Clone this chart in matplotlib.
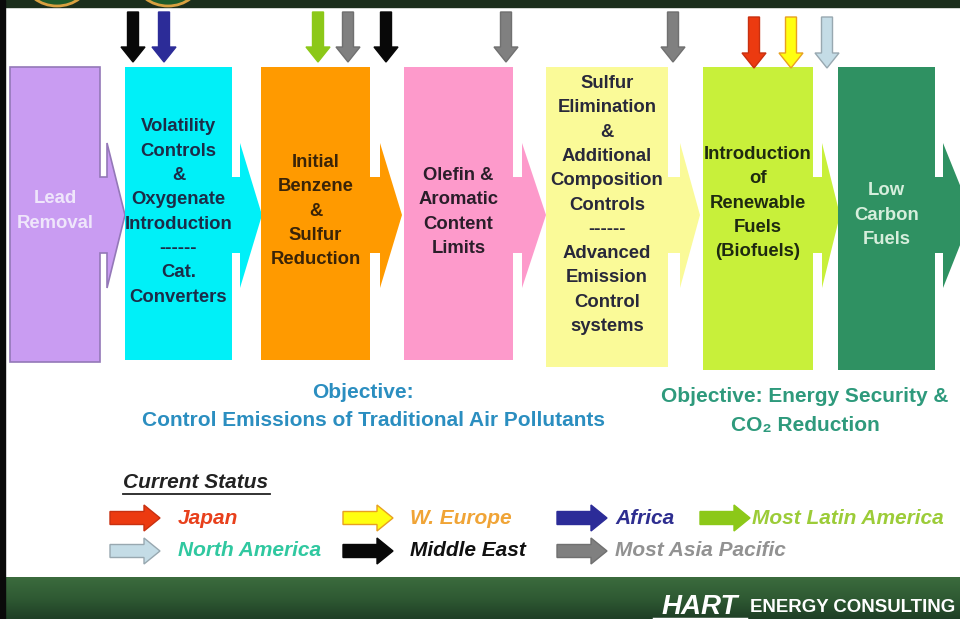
"""Fuel quality evolution diagram, drawn with patches in pixel space."""

import numpy as np
import matplotlib
matplotlib.use("Agg")
import matplotlib.pyplot as plt
from matplotlib.patches import Polygon, Rectangle, Ellipse
from matplotlib.colors import LinearSegmentedColormap

plt.rcParams['font.family'] = ['Liberation Sans', 'DejaVu Sans']

# Stages of fuel quality regulation.
stage_labels = [
    ["Lead", "Removal"],
    ["Volatility", "Controls", "&", "Oxygenate", "Introduction", "------", "Cat.", "Converters"],
    ["Initial", "Benzene", "&", "Sulfur", "Reduction"],
    ["Olefin &", "Aromatic", "Content", "Limits"],
    ["Sulfur", "Elimination", "&", "Additional", "Composition", "Controls", "------",
     "Advanced", "Emission", "Control", "systems"],
    ["Introduction", "of", "Renewable", "Fuels", "(Biofuels)"],
    ["Low", "Carbon", "Fuels"],
]
stage_colors = ["#c99cf2", "#00f0f8", "#ff9a00", "#fd9acb", "#fafa98", "#c8f03a", "#2f9162"]
stage_edges = ["#9478b8", "none", "none", "none", "none", "none", "none"]
stage_text_colors = ["#efe6fb", "#1c2c48", "#3a2408", "#2a1e2a", "#28283a", "#1e2a10", "#d6eedc"]

# Regions and their current status (stage reached).
region_names = ["Japan", "W. Europe", "Africa", "Most Latin America",
                "North America", "Middle East", "Most Asia Pacific"]
region_fill = ["#ec3a10", "#ffff10", "#2c2c98", "#8cc818", "#c4dce6", "#080808", "#808080"]
region_edge = ["#c83010", "#e8a020", "#2c2c98", "#8cc818", "#98a8b0", "#080808", "#707070"]
region_text = ["#e8401c", "#f0a436", "#2e2e90", "#9ccc38", "#30c8a0", "#101010", "#929292"]
marker_regions = ["Middle East", "Africa", "Most Latin America", "Most Asia Pacific", "Middle East",
                  "Most Asia Pacific", "Most Asia Pacific", "Japan", "W. Europe", "North America"]

objective_left = ["Objective:", "Control Emissions of Traditional Air Pollutants"]
objective_right = ["Objective: Energy Security &", "CO\u2082 Reduction"]

# Layout in pixels.
stage_left = [10, 125, 261, 404, 546, 703, 838]
stage_right = [100, 232, 370, 513, 668, 813, 935]
stage_bottom = [362, 360, 360, 360, 367, 370, 370]
stage_text_y = [211, 212, 211, 212, 205, 203, 215]
head_start = [107, 240, 380, 522, 680, 822, 943]
head_tip = [125, 262, 402, 546, 700, 840, 972]
marker_x = [133, 164, 318, 348, 386, 506, 673, 754, 791, 827]
marker_tip = [62, 62, 62, 62, 62, 62, 62, 68, 68, 68]
legend_col_x = [110, 343, 557, 700]
legend_text_x = [178, 410, 615, 752]
legend_row_y = [518, 551]

fig = plt.figure(figsize=(9.6, 6.19), dpi=100)
ax = fig.add_axes([0, 0, 1, 1])
ax.set_xlim(0, 960)
ax.set_ylim(619, 0)
ax.axis('off')


def right_arrow(x0, yc, length, shaft_h, head_h, head_len):
    xh = x0 + length - head_len
    return [(x0, yc - shaft_h), (xh, yc - shaft_h), (xh, yc - head_h), (x0 + length, yc),
            (xh, yc + head_h), (xh, yc + shaft_h), (x0, yc + shaft_h)]


def down_arrow(xc, y0, tip, shaft_w, head_w, head_len):
    yh = tip - head_len
    return [(xc - shaft_w, y0), (xc + shaft_w, y0), (xc + shaft_w, yh), (xc + head_w, yh),
            (xc, tip), (xc - head_w, yh), (xc - shaft_w, yh)]


# Header bar with the cropped logos.
ax.add_patch(Rectangle((0, 0), 960, 7, color="#1b2e1c", zorder=5))
for cx in (57, 168):
    ax.add_patch(Ellipse((cx, -20), 64, 52, facecolor="#1e5a2a", edgecolor="#d8a040", lw=2, zorder=6))

# Stages: box with block arrow pointing to the next stage.
shaft_top, shaft_bot, head_top, head_bot, mid = 177, 253, 143, 288, 215
for i, lines in enumerate(stage_labels):
    x0, x1, yb = stage_left[i], stage_right[i], stage_bottom[i]
    pts = [(x0, 67), (x1, 67), (x1, shaft_top), (head_start[i], shaft_top), (head_start[i], head_top),
           (head_tip[i], mid), (head_start[i], head_bot), (head_start[i], shaft_bot),
           (x1, shaft_bot), (x1, yb), (x0, yb)]
    ax.add_patch(Polygon(pts, closed=True, facecolor=stage_colors[i], edgecolor=stage_edges[i],
                         lw=1.2, zorder=2 + i * 0.1))
    cx = (x0 + x1) / 2
    n = len(lines)
    for j, line in enumerate(lines):
        y = stage_text_y[i] + (j - (n - 1) / 2) * 24.3
        ax.text(cx, y, line, ha='center', va='center', fontsize=13.3, fontweight='bold',
                color=stage_text_colors[i], zorder=4)

# Status markers above the stages.
for name, x, tip in zip(marker_regions, marker_x, marker_tip):
    k = region_names.index(name)
    top = 12 if tip == 62 else 17
    ax.add_patch(Polygon(down_arrow(x, top, tip, 5.5, 12, 15), closed=True,
                         facecolor=region_fill[k], edgecolor=region_edge[k], lw=1, zorder=3))

# Objectives.
obj_style = dict(ha='center', va='center', fontsize=15, fontweight='bold')
ax.text(363, 393, objective_left[0], color="#2b8ec0", **obj_style)
ax.text(373, 420, objective_left[1], color="#2b8ec0", **obj_style)
ax.text(805, 397, objective_right[0], color="#2e9a7c", **obj_style)
ax.text(805, 425, objective_right[1], color="#2e9a7c", **obj_style)

# Legend.
ax.text(123, 482, "Current Status", ha='left', va='center', fontsize=15, fontweight='bold',
        fontstyle='italic', color="#222222")
ax.plot([123, 270], [494, 494], color="#222222", lw=1.3)
for k, name in enumerate(region_names):
    row, col = divmod(k, 4)
    x0, y = legend_col_x[col], legend_row_y[row]
    ax.add_patch(Polygon(right_arrow(x0, y, 50, 6.5, 13, 16), closed=True,
                         facecolor=region_fill[k], edgecolor=region_edge[k], lw=1))
    ax.text(legend_text_x[col], y, name, ha='left', va='center', fontsize=15, fontweight='bold',
            fontstyle='italic', color=region_text[k])

# Footer bar.
grad = np.linspace(0, 1, 50).reshape(-1, 1)
cmap = LinearSegmentedColormap.from_list("footer", ["#3b6b3d", "#2f5a33", "#1f3f26"])
ax.imshow(grad, cmap=cmap, extent=[0, 960, 619, 577], aspect='auto', zorder=1)
ax.text(700, 607, "HART", ha='center', va='center', fontsize=20, fontweight='bold',
        fontstyle='italic', color="white", zorder=6)
ax.plot([654, 746], [619, 619], color="white", lw=2.5, zorder=6)
ax.text(955, 608, "ENERGY CONSULTING", ha='right', va='center', fontsize=13.4, fontweight='bold',
        color="white", zorder=6)

# Left frame line.
ax.add_patch(Rectangle((0, 0), 5, 619, color="#0a0a0a", zorder=7))

fig.savefig("out.png", dpi=100)
